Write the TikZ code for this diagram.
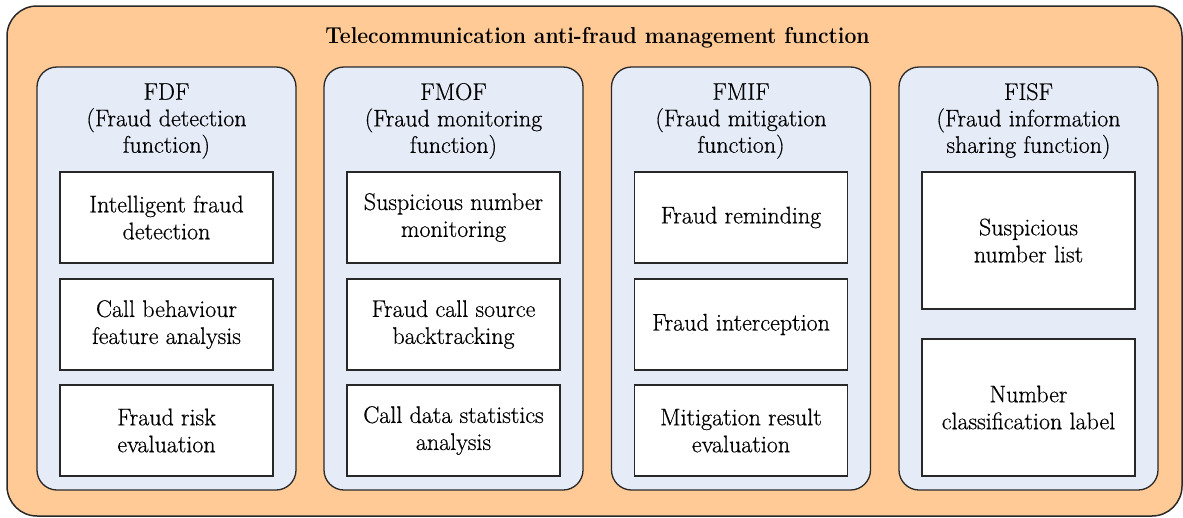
\documentclass[tikz,border=0pt]{standalone}
\usepackage{fontspec}
\newfontfamily\bodyfont{Latin Modern Roman}[FakeBold=0.5]
\definecolor{orangefill}{RGB}{255,202,150}
\definecolor{bluefill}{RGB}{230,236,247}
\definecolor{linec}{RGB}{40,40,40}
\begin{document}
\begin{tikzpicture}[x=1pt,y=-1pt,
  outerbox/.style={draw=linec, line width=1.5pt, fill=orangefill, rounded corners=30pt,
    minimum width=1175pt, minimum height=510pt, inner sep=0pt},
  panel/.style={draw=linec, line width=1.3pt, fill=bluefill, rounded corners=20pt,
    minimum width=259pt, minimum height=423pt, inner sep=0pt},
  itembox/.style={draw=linec, line width=1.4pt, fill=white, minimum width=213pt,
    inner sep=0pt, align=center, font=\bodyfont\fontsize{24}{27}\selectfont},
  headtext/.style={align=center, inner sep=0pt, font=\bodyfont\fontsize{24}{26.5}\selectfont},
  titletext/.style={inner sep=0pt, font=\fontsize{23}{27}\selectfont\bfseries}
]
\useasboundingbox (0,0) rectangle (1183,517);
\node[outerbox] (outer) at (594.5,261) {};
\node[titletext, anchor=base] (title) at (597.5,43.5) {\scalebox{0.92}[1]{Telecommunication anti-fraud management function}};

% panels
\node[panel] (fdf) at (166.5,278.5) {};
\node[panel] (fmof) at (453.5,278.5) {};
\node[panel] (fmif) at (741,278.5) {};
\node[panel] (fisf) at (1028.5,278.5) {};

\node[headtext] (fdfh) at (166.5,121) {FDF\\(Fraud detection\\function)};
\node[headtext] (fmofh) at (453.5,121) {FMOF\\(Fraud monitoring\\function)};
\node[headtext] (fmifh) at (741,121) {FMIF\\(Fraud mitigation\\function)};
\node[headtext] (fisfh) at (1028.5,121) {FISF\\(Fraud information\\sharing function)};

% FDF items
\node[itembox, minimum height=91pt] (d1) at (166.5,217.5) {Intelligent fraud\\detection};
\node[itembox, minimum height=91pt] (d2) at (166.5,324.5) {Call behaviour\\feature analysis};
\node[itembox, minimum height=91pt] (d3) at (166.5,430.5) {Fraud risk\\evaluation};

% FMOF items
\node[itembox, minimum height=91pt] (m1) at (453.5,217.5) {Suspicious number\\monitoring};
\node[itembox, minimum height=91pt] (m2) at (453.5,324.5) {Fraud call source\\backtracking};
\node[itembox, minimum height=91pt] (m3) at (453.5,430.5) {Call data statistics\\analysis};

% FMIF items
\node[itembox, minimum height=91pt] (t1) at (741,217.5) {Fraud reminding};
\node[itembox, minimum height=91pt] (t2) at (741,324.5) {Fraud interception};
\node[itembox, minimum height=91pt] (t3) at (741,430.5) {Mitigation result\\evaluation};

% FISF items
\node[itembox, minimum height=137pt] (s1) at (1028.5,240.5) {Suspicious\\number list};
\node[itembox, minimum height=137pt] (s2) at (1028.5,407.5) {Number\\classification label};
\end{tikzpicture}
\end{document}
